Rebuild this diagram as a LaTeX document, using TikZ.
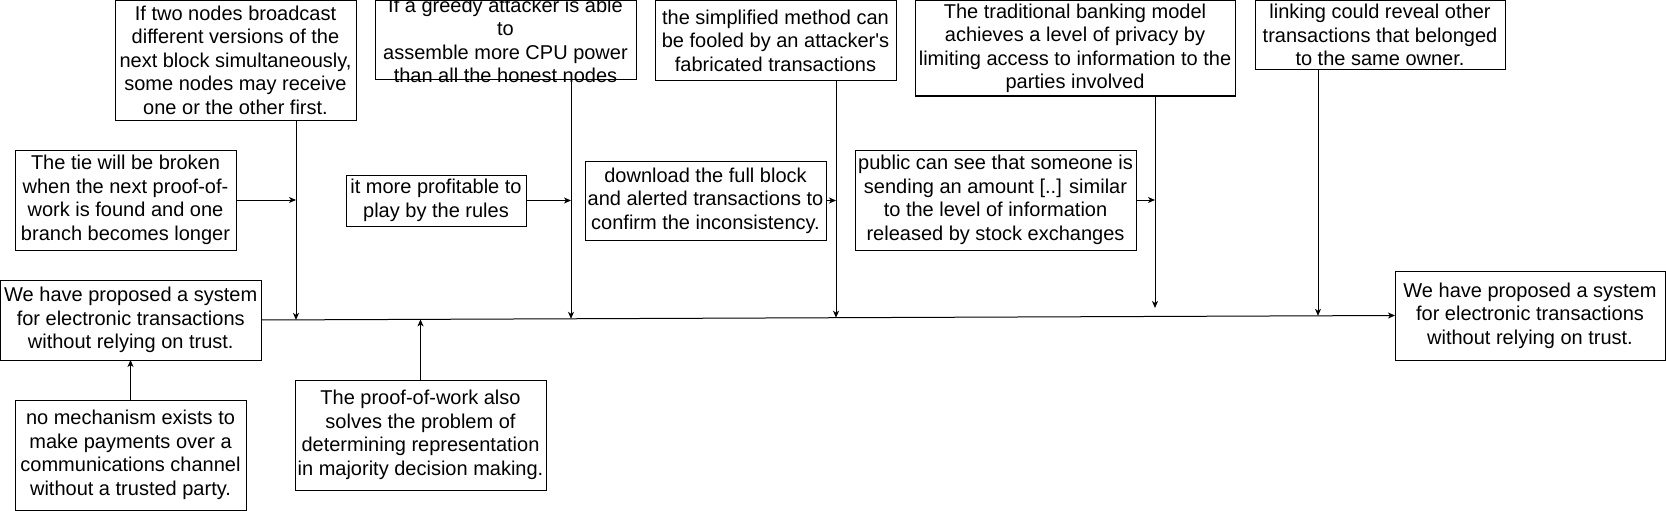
\documentclass[tikz,border=0pt]{standalone}
\usepackage{fontspec}
\setmainfont{Liberation Sans}
\usetikzlibrary{arrows.meta}
\begin{document}
\begin{tikzpicture}[x=1pt,y=-1pt,
  box/.style={draw, line width=1pt, inner sep=0pt, outer sep=0pt, align=center, font=\fontsize{20}{23.5}\selectfont},
  txt/.style={align=center, inner sep=0pt, font=\fontsize{20}{23.5}\selectfont},
  arr/.style={line width=1pt, -{Stealth[length=7pt,width=6pt,inset=2pt]}}]
\fill[white] (0,0) rectangle (1666,511);
\useasboundingbox (0,0) rectangle (1666,511);

\node[box, minimum width=241pt, minimum height=119.5pt] (nA) at (235.5,60.25)
  {If two nodes broadcast\\different versions of the\\next block simultaneously,\\some nodes may receive\\one or the other first.};
\node[box, minimum width=221pt, minimum height=100pt] (nB) at (125.5,200)
  {The tie will be broken\\when the next proof-of-\\work is found and one\\branch becomes longer};
\node[box, minimum width=180pt, minimum height=51pt] (nC) at (436,200.5)
  {it more profitable to\\play by the rules};
\node[box, minimum width=261pt, minimum height=79.5pt,
  label={[txt]center:{If a greedy attacker is able\\to\\assemble more CPU power\\than all the honest nodes}}] (nG) at (505.5,40.25) {};
\node[box, minimum width=241pt, minimum height=79pt] (nD) at (705.5,200.5)
  {download the full block\\and alerted transactions to\\confirm the inconsistency.};
\node[box, minimum width=241pt, minimum height=80.5pt] (nS) at (775.5,40.75)
  {the simplified method can\\be fooled by an attacker\textquotesingle s\\fabricated transactions};
\node[box, minimum width=281pt, minimum height=100pt] (nP) at (995.5,200)
  {public can see that someone is\\sending an amount [..] similar\\to the level of information\\released by stock exchanges};
\node[box, minimum width=320pt, minimum height=95.5pt] (nK) at (1075,48.25)
  {The traditional banking model\\achieves a level of privacy by\\limiting access to information to the\\parties involved};
\node[box, minimum width=250pt, minimum height=69.5pt] (nL) at (1380,35.25)
  {linking could reveal other\\transactions that belonged\\to the same owner.};
\node[box, minimum width=260.5pt, minimum height=80pt] (nW1) at (130.75,320)
  {We have proposed a system\\for electronic transactions\\without relying on trust.};
\node[box, minimum width=270pt, minimum height=89pt] (nW2) at (1530,315.5)
  {We have proposed a system\\for electronic transactions\\without relying on trust.};
\node[box, minimum width=231pt, minimum height=110pt] (nN) at (130.5,455)
  {no mechanism exists to\\make payments over a\\communications channel\\without a trusted party.};
\node[box, minimum width=251pt, minimum height=110pt] (nPW) at (420.5,435)
  {The proof-of-work also\\solves the problem of\\determining representation\\in majority decision making.};

\coordinate (tA) at (296,319.9);
\coordinate (tG) at (571,318.8);
\coordinate (tS) at (836,317.7);
\coordinate (tK) at (1155,308);
\coordinate (tL) at (1318,315.8);
\coordinate (tPW) at (420.5,319.4);

\draw[arr] (nW1.east) -- (nW2.west);
\draw[arr] (nA.south -| tA) -- (tA);
\draw[arr] (nB.east) -- (nB.east -| tA);
\draw[arr] (nG.south -| tG) -- (tG);
\draw[arr] (nC.east) -- (nC.east -| tG);
\draw[arr] (nS.south -| tS) -- (tS);
\draw[arr] (nD.east) -- (nD.east -| tS);
\draw[arr] (nK.south -| tK) -- (tK);
\draw[arr] (nP.east) -- (nP.east -| tK);
\draw[arr] (nL.south -| tL) -- (tL);
\draw[arr] (nN.north) -- (nN.north |- nW1.south);
\draw[arr] (nPW.north) -- (tPW);
\end{tikzpicture}
\end{document}
